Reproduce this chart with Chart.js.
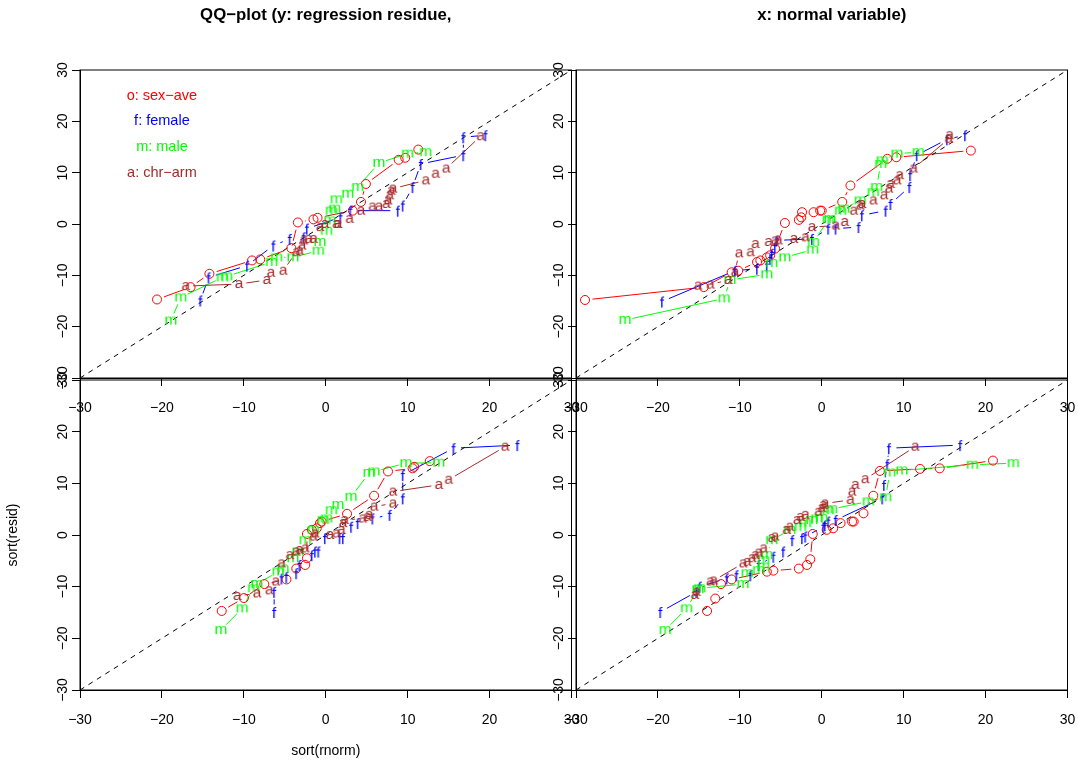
<!DOCTYPE html>
<html>
<head>
<meta charset="utf-8">
<script src="https://cdn.jsdelivr.net/npm/chart.js@4.4.0/dist/chart.umd.min.js"></script>
<style>
  body { margin: 0; background: #fff; }
  #wrap { position: relative; width: 1078px; height: 766px; }
  #wrap canvas { position: absolute; left: 0; top: 0; }
</style>
</head>
<body>
<div id="wrap">
  <canvas id="tl" width="1078" height="766"></canvas>
  <canvas id="tr" width="1078" height="766"></canvas>
  <canvas id="bl" width="1078" height="766"></canvas>
  <canvas id="br" width="1078" height="766"></canvas>
</div>
<script>
// series: o = sex-ave, f = female, m = male, a = chr-arm  ([sort(rnorm), sort(resid)])
const tlSexAve = [[-20.6,-14.7],[-16.5,-12.3],[-14.2,-9.7],[-9.0,-7.1],[-8.0,-6.9],[-4.2,-4.7],[-3.4,0.3],[-1.5,0.9],[-1.0,1.2],[3.3,2.6],[4.3,4.3],[4.9,7.8],[8.9,12.5],[9.7,12.9],[11.3,14.5]];
const tlFemale = [[-15.3,-14.9],[-14.3,-10.4],[-9.6,-8.1],[-6.4,-4.2],[-4.4,-2.9],[-2.7,-2.6],[-2.3,-0.9],[1.8,1.3],[3.0,2.6],[8.8,2.6],[9.4,3.6],[10.6,7.2],[11.6,11.7],[16.8,13.4],[16.8,16.9],[19.5,17.3]];
const tlMale = [[-18.9,-18.8],[-17.7,-14.3],[-12.6,-10.4],[-12.1,-10.2],[-6.6,-7.4],[-6.0,-6.5],[-4.0,-6.5],[-0.9,-5.2],[-0.7,-3.5],[0.1,-1.3],[0.5,0.7],[0.7,2.6],[1.1,3.0],[1.3,4.8],[2.7,5.9],[3.9,7.2],[6.5,11.9],[10.0,13.7],[12.2,14.0]];
const tlChrArm = [[-17.1,-12.1],[-10.6,-11.7],[-7.2,-10.9],[-6.7,-9.5],[-5.2,-9.1],[-3.6,-5.5],[-3.2,-5.2],[-2.9,-4.2],[-2.7,-3.2],[-2.1,-2.9],[-1.5,-2.9],[-0.7,-0.6],[-0.1,0.0],[1.3,0.0],[1.5,0.0],[2.9,1.0],[4.3,2.6],[5.7,3.4],[6.5,3.4],[7.4,3.9],[7.6,4.6],[7.8,5.6],[8.0,6.5],[8.2,6.9],[12.2,8.5],[13.4,9.8],[14.7,10.8],[18.9,17.1]];

const trSexAve = [[-28.9,-14.8],[-14.4,-12.3],[-11.0,-9.4],[-10.2,-9.1],[-7.9,-7.4],[-7.5,-7.1],[-6.7,-6.5],[-6.3,-6.1],[-5.7,-4.8],[-4.5,0.2],[-2.8,0.8],[-2.5,1.3],[-2.4,2.3],[-1.0,2.3],[-0.2,2.6],[0.0,2.6],[2.5,4.3],[3.5,7.5],[8.0,12.7],[9.1,13.0],[18.2,14.3]];
const trFemale = [[-19.5,-15.1],[-10.6,-9.1],[-7.9,-8.7],[-6.7,-8.1],[-6.3,-6.8],[-6.1,-5.8],[-5.7,-4.5],[-5.5,-3.2],[-1.2,-2.9],[0.8,-0.9],[1.7,-0.9],[4.5,-0.6],[4.9,1.7],[7.8,2.6],[8.4,3.9],[10.7,7.2],[10.8,9.5],[11.6,13.4],[15.3,16.5],[17.5,17.3]];
const trMale = [[-24.0,-18.7],[-11.9,-14.5],[-11.2,-10.9],[-6.7,-9.8],[-6.1,-7.6],[-4.5,-6.5],[-1.1,-5.0],[-1.0,-3.5],[0.8,0.8],[1.0,1.0],[2.3,2.6],[2.7,3.0],[4.7,4.6],[6.3,6.2],[6.7,7.2],[7.2,11.7],[7.4,12.4],[9.2,13.7],[11.8,14.0]];
const trChrArm = [[-15.1,-12.0],[-13.6,-11.8],[-11.4,-10.9],[-10.6,-9.4],[-10.1,-5.7],[-8.7,-5.5],[-8.1,-3.9],[-6.5,-3.5],[-5.7,-3.2],[-5.3,-3.2],[-3.4,-2.9],[-2.0,-2.6],[-1.2,-0.6],[1.7,-0.3],[2.8,0.4],[3.9,2.6],[4.7,3.6],[4.9,3.9],[6.3,4.6],[7.6,5.6],[8.2,6.9],[8.4,7.8],[9.2,8.5],[9.5,9.5],[11.2,10.8],[15.5,16.6],[15.6,17.3]];

const blSexAve = [[-12.7,-14.7],[-10.0,-12.2],[-7.5,-9.5],[-4.8,-8.6],[-3.6,-6.5],[-2.5,-5.8],[-2.3,-4.5],[-2.3,0.2],[-1.7,1.0],[-1.1,1.3],[-0.7,2.3],[-0.5,2.6],[2.6,4.1],[5.9,7.6],[7.6,12.3],[10.6,12.9],[10.8,13.2],[12.7,14.3]];
const blFemale = [[-6.3,-14.9],[-6.3,-11.0],[-5.4,-8.4],[-4.8,-8.1],[-3.6,-7.4],[-3.2,-5.8],[-1.7,-3.9],[-1.3,-3.2],[-0.9,-3.2],[-0.1,-0.6],[1.7,-0.6],[2.1,-0.6],[3.1,1.6],[3.9,2.3],[5.7,3.2],[7.8,3.9],[9.4,7.1],[9.4,11.6],[15.6,16.8],[23.4,17.4]];
const blMale = [[-12.8,-18.4],[-10.2,-14.2],[-8.8,-10.3],[-8.4,-9.5],[-5.8,-7.1],[-5.2,-6.5],[-4.0,-4.5],[-3.4,-3.2],[-2.5,-1.0],[-1.5,1.0],[-0.3,2.9],[0.1,3.2],[0.7,4.8],[1.5,5.8],[3.1,7.4],[5.3,12.0],[5.9,12.3],[9.8,13.9],[13.8,14.0]];
const blChrArm = [[-10.8,-11.8],[-8.4,-11.3],[-6.9,-10.7],[-6.1,-9.0],[-5.4,-5.5],[-4.4,-3.9],[-3.6,-3.2],[-3.2,-2.9],[-2.5,-2.6],[-1.5,-0.3],[-1.3,0.3],[0.5,0.0],[1.3,0.3],[1.9,1.0],[2.1,2.3],[2.3,2.9],[4.5,3.2],[5.1,3.5],[5.3,3.9],[5.9,5.5],[8.2,6.1],[8.2,8.4],[13.8,9.7],[15.0,10.7],[21.9,17.1]];

const brSexAve = [[-14.0,-14.7],[-13.0,-12.3],[-12.3,-9.5],[-11.0,-8.6],[-6.7,-7.1],[-5.9,-6.9],[-2.8,-6.5],[-1.8,-5.8],[-1.4,-4.7],[-1.1,0.2],[0.6,1.0],[1.4,1.3],[2.3,2.3],[3.7,2.6],[3.9,2.6],[5.1,4.2],[6.3,7.6],[7.1,12.4],[12.0,12.8],[14.4,12.9],[20.9,14.4]];
const brFemale = [[-19.7,-14.9],[-15.3,-11.0],[-14.9,-10.0],[-11.6,-8.4],[-10.4,-7.8],[-8.7,-7.8],[-7.7,-5.8],[-5.9,-4.2],[-4.7,-3.2],[-3.6,-1.0],[-2.4,-0.6],[-2.0,-0.3],[0.2,1.6],[0.4,1.9],[0.8,2.6],[1.7,2.9],[7.4,7.1],[7.6,9.7],[8.0,13.7],[8.2,16.8],[16.9,17.4]];
const brMale = [[-19.1,-18.4],[-16.5,-14.2],[-15.1,-10.5],[-14.9,-10.3],[-9.6,-9.5],[-9.1,-7.4],[-7.7,-6.8],[-7.1,-6.1],[-7.1,-4.8],[-6.7,-3.9],[-6.1,-1.0],[-3.9,1.0],[-2.6,1.6],[-2.0,2.3],[-1.2,2.9],[-0.6,3.2],[0.0,3.3],[0.8,4.8],[1.2,5.0],[5.7,6.5],[7.8,7.3],[8.3,12.1],[9.8,12.5],[18.4,13.6],[23.4,13.9]];
const brChrArm = [[-15.5,-11.6],[-15.3,-11.0],[-13.6,-9.0],[-13.2,-8.8],[-9.6,-5.5],[-9.1,-5.2],[-8.5,-4.5],[-8.1,-3.9],[-7.7,-3.4],[-7.1,-2.6],[-6.1,-0.6],[-5.7,-0.3],[-4.3,1.0],[-3.9,1.6],[-3.0,2.9],[-2.6,3.5],[-2.0,3.9],[-0.4,4.5],[0.0,5.2],[0.2,5.8],[0.4,6.1],[3.5,6.8],[3.7,8.4],[4.1,9.7],[5.3,10.8],[11.4,17.1]];

const seriesNames = ['sex-ave', 'female', 'male', 'chr-arm'];
const seriesMarks = ['o', 'f', 'm', 'a'];
const seriesColors = ['#FF0000', '#0000FF', '#00FF00', '#A52A2A'];
const legendText = ['o: sex\u2212ave', 'f: female', 'm: male', 'a: chr\u2212arm'];
const legendX = -20;
const legendY = [25, 20, 15, 10];
const axisRange = [-30, 30];

const FONT = '"Liberation Sans", Arial, Helvetica, sans-serif';
const YW = 75, XH = 70;
const GAP = 7.5; // like R type="b": segments stop short of the symbols

// letter used as point symbol, glyph box centred on the point
function letterMark(ch, color) {
  const c = document.createElement('canvas');
  c.width = 20; c.height = 20;
  const g = c.getContext('2d');
  g.font = '15.5px ' + FONT;
  g.fillStyle = color;
  g.textAlign = 'center';
  g.textBaseline = 'alphabetic';
  const m = g.measureText(ch);
  g.fillText(ch, 10, 10 + (m.actualBoundingBoxAscent - m.actualBoundingBoxDescent) / 2);
  return c;
}

const fmt = v => v < 0 ? '\u2212' + Math.abs(v) : String(v);

const gapLines = {
  id: 'gapLines',
  beforeDatasetsDraw(chart) {
    const ctx = chart.ctx, a = chart.chartArea;
    ctx.save();
    ctx.beginPath();
    ctx.rect(a.left, a.top, a.right - a.left, a.bottom - a.top);
    ctx.clip();
    chart.data.datasets.forEach((ds, i) => {
      if (!ds.gapLine) return;
      const pts = chart.getDatasetMeta(i).data;
      ctx.strokeStyle = ds.borderColor;
      ctx.lineWidth = 1;
      ctx.beginPath();
      for (let k = 1; k < pts.length; k++) {
        const x0 = pts[k - 1].x, y0 = pts[k - 1].y, x1 = pts[k].x, y1 = pts[k].y;
        const d = Math.hypot(x1 - x0, y1 - y0);
        if (d <= 2 * GAP) continue;
        const ux = (x1 - x0) / d, uy = (y1 - y0) / d;
        ctx.moveTo(x0 + ux * GAP, y0 + uy * GAP);
        ctx.lineTo(x1 - ux * GAP, y1 - uy * GAP);
      }
      ctx.stroke();
    });
    ctx.restore();
  }
};

const panelText = {
  id: 'panelText',
  afterDraw(chart, args, o) {
    const ctx = chart.ctx, a = chart.chartArea;
    ctx.save();
    ctx.strokeStyle = '#000';
    ctx.lineWidth = 1;
    ctx.strokeRect(a.left, a.top, a.right - a.left, a.bottom - a.top);
    ctx.textAlign = 'center';
    ctx.textBaseline = 'middle';
    if (o.title) {
      ctx.font = 'bold 16.8px ' + FONT;
      ctx.fillStyle = '#000';
      ctx.fillText(o.title, (a.left + a.right) / 2 + (o.titleDx || 0), 15);
    }
    if (o.legend) {
      ctx.font = '14.5px ' + FONT;
      legendText.forEach((t, i) => {
        ctx.fillStyle = seriesColors[i];
        ctx.fillText(t, chart.scales.x.getPixelForValue(legendX), chart.scales.y.getPixelForValue(legendY[i]));
      });
    }
    ctx.restore();
  }
};
Chart.register(gapLines, panelText);

const panels = [
  { id: 'tl', rect: [80, 70, 571.5, 378], title: 'QQ\u2212plot (y: regression residue,', legend: true, data: [tlSexAve, tlFemale, tlMale, tlChrArm] },
  { id: 'tr', rect: [576, 70, 1067.5, 378], title: 'x: normal variable)', titleDx: 10, data: [trSexAve, trFemale, trMale, trChrArm] },
  { id: 'bl', rect: [80, 380, 571.5, 690], xTitle: 'sort(rnorm)', yTitle: 'sort(resid)', data: [blSexAve, blFemale, blMale, blChrArm] },
  { id: 'br', rect: [576, 380, 1067.5, 690], data: [brSexAve, brFemale, brMale, brChrArm] }
];

panels.forEach(p => {
  const [L, T, R, B] = p.rect;
  const datasets = p.data.map((pts, i) => ({
    label: seriesNames[i],
    data: pts.map(d => ({ x: d[0], y: d[1] })),
    showLine: false,
    gapLine: true,
    borderColor: seriesColors[i],
    borderWidth: 1,
    pointStyle: seriesMarks[i] === 'o' ? 'circle' : letterMark(seriesMarks[i], seriesColors[i]),
    pointRadius: 4.5,
    pointBorderColor: seriesColors[i],
    pointBackgroundColor: 'rgba(0,0,0,0)',
    pointBorderWidth: 1,
    order: 4 - i
  }));
  datasets.push({
    label: 'y = x',
    type: 'line',
    data: axisRange.map(v => ({ x: v, y: v })),
    borderColor: '#000',
    borderWidth: 1,
    borderDash: [5, 5],
    pointRadius: 0,
    order: 10
  });

  new Chart(document.getElementById(p.id), {
    type: 'scatter',
    data: { datasets },
    options: {
      responsive: false,
      animation: false,
      events: [],
      layout: { padding: { left: L - YW, top: T, right: 1078 - R, bottom: 766 - B - XH } },
      plugins: {
        legend: { display: false },
        tooltip: { enabled: false },
        panelText: { title: p.title, titleDx: p.titleDx, legend: p.legend }
      },
      scales: {
        x: {
          type: 'linear', min: axisRange[0], max: axisRange[1],
          ticks: { stepSize: 10, color: '#000', font: { size: 14, family: FONT }, padding: 14, maxRotation: 0, autoSkip: false, callback: fmt },
          grid: { drawOnChartArea: false, tickLength: 8, color: '#000' },
          border: { display: true, color: '#000' },
          title: { display: !!p.xTitle, text: p.xTitle || '', color: '#000', font: { size: 14, family: FONT }, padding: 0 },
          afterFit: s => { s.height = XH; s.paddingLeft = 0; s.paddingRight = 0; }
        },
        y: {
          type: 'linear', min: axisRange[0], max: axisRange[1],
          ticks: { stepSize: 10, color: '#000', font: { size: 14, family: FONT }, padding: -3, minRotation: 90, maxRotation: 90, crossAlign: 'center', autoSkip: false, callback: fmt },
          grid: { drawOnChartArea: false, tickLength: 8, color: '#000' },
          border: { display: true, color: '#000' },
          title: { display: !!p.yTitle, text: p.yTitle || '', color: '#000', font: { size: 14, family: FONT }, padding: 0 },
          afterFit: s => { s.width = YW; s.paddingTop = 0; s.paddingBottom = 0; }
        }
      }
    }
  });
});
</script>
</body>
</html>
